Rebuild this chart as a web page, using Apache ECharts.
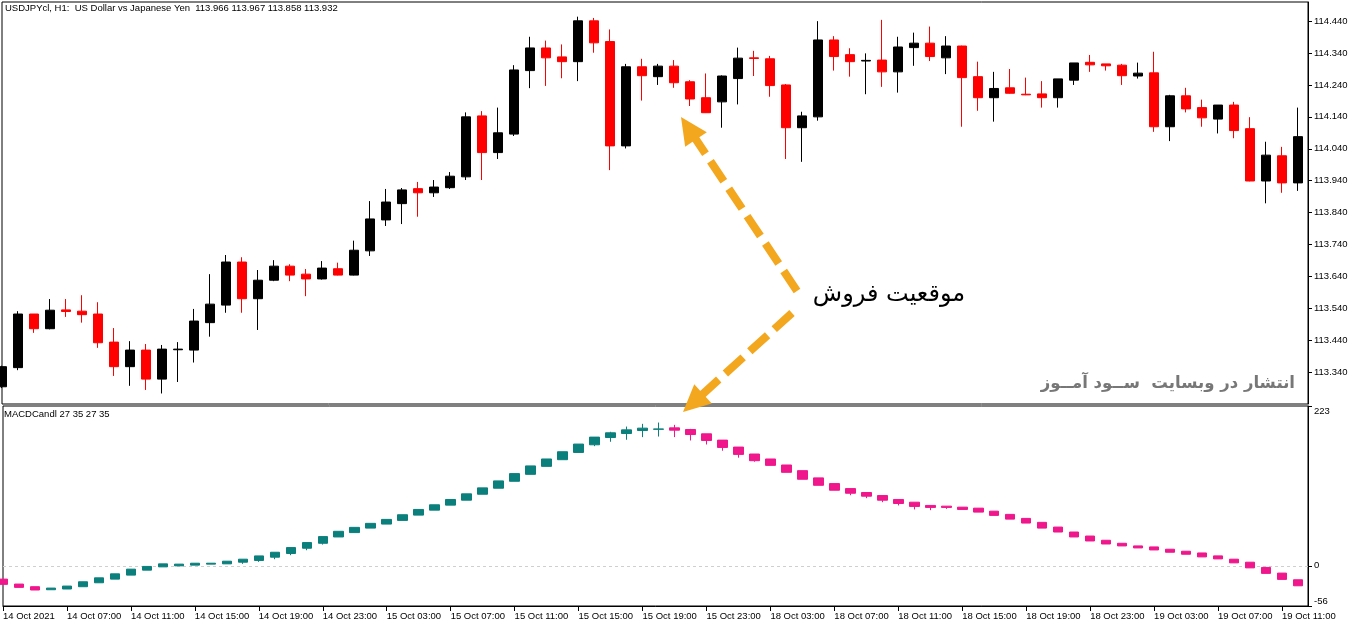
<!DOCTYPE html>
<html><head><meta charset="utf-8">
<script src="https://cdn.jsdelivr.net/npm/echarts@6/dist/echarts.min.js"></script>
<style>html,body{margin:0;padding:0;background:#fff;}#c{width:1362px;height:628px;}</style>
</head><body><div id="c"></div>
<script>
// ---- Price candles (USDJPY H1), index 0 = 14 Oct 03:00 ----
const priceOpen = [113.294,113.354,113.522,113.476,113.535,113.531,113.522,113.434,113.357,113.409,
113.318,113.410,113.409,113.495,113.550,113.685,113.570,113.628,113.672,113.647,
113.632,113.664,113.644,113.720,113.817,113.868,113.915,113.902,113.918,113.952,
114.143,114.028,114.086,114.285,114.356,114.328,114.313,114.441,114.376,114.049,
114.297,114.266,114.299,114.250,114.200,114.187,114.260,114.325,114.322,114.240,
114.106,114.140,114.381,114.335,114.315,114.318,114.281,114.357,114.371,114.325,
114.362,114.266,114.200,114.231,114.211,114.212,114.200,114.255,114.311,114.306,
114.302,114.268,114.278,114.109,114.206,114.169,114.133,114.177,114.103,113.939,
114.018,113.933];
const priceClose = [113.357,113.522,113.476,113.534,113.530,113.520,113.432,113.357,113.409,113.318,
113.412,113.412,113.500,113.553,113.685,113.570,113.628,113.672,113.644,113.632,
113.666,113.644,113.722,113.820,113.873,113.911,113.902,113.920,113.954,114.140,
114.028,114.090,114.287,114.356,114.325,114.313,114.441,114.372,114.049,114.297,
114.269,114.299,114.247,114.196,114.153,114.268,114.324,114.323,114.238,114.106,
114.143,114.381,114.329,114.313,114.317,114.281,114.359,114.371,114.329,114.362,
114.263,114.200,114.229,114.214,114.209,114.200,114.259,114.309,114.303,114.300,
114.269,114.277,114.109,114.206,114.165,114.137,114.177,114.097,113.939,114.020,
113.933,114.078];
const priceLow = [113.290,113.346,113.463,113.474,113.513,113.495,113.416,113.328,113.297,113.284,
113.273,113.309,113.370,113.451,113.526,113.526,113.472,113.625,113.625,113.578,
113.630,113.643,113.643,113.704,113.798,113.804,113.827,113.889,113.914,113.942,
113.942,114.008,114.080,114.230,114.237,114.261,114.252,114.341,113.973,114.041,
114.191,114.240,114.231,114.174,114.152,114.106,114.179,114.268,114.203,114.008,
113.999,114.128,114.285,114.266,114.211,114.234,114.216,114.300,114.315,114.274,
114.109,114.159,114.125,114.213,114.208,114.169,114.169,114.240,114.281,114.285,
114.240,114.260,114.093,114.064,114.154,114.109,114.088,114.073,113.938,113.869,
113.902,113.908];
const priceHigh = [113.360,113.531,113.522,113.569,113.569,113.581,113.559,113.478,113.437,113.428,
113.425,113.434,113.538,113.647,113.707,113.700,113.660,113.691,113.678,113.663,
113.688,113.683,113.752,113.876,113.914,113.917,113.936,113.942,113.967,114.154,
114.158,114.169,114.302,114.391,114.379,114.367,114.454,114.450,114.414,114.306,
114.322,114.306,114.318,114.255,114.276,114.270,114.357,114.347,114.331,114.243,
114.156,114.440,114.393,114.355,114.339,114.444,114.391,114.404,114.423,114.393,
114.363,114.313,114.281,114.290,114.263,114.252,114.259,114.309,114.334,114.306,
114.306,114.310,114.344,114.209,114.231,114.194,114.177,114.187,114.139,114.062,
114.046,114.169];

// ---- MACDCandl 27 35 27 35 ----
const macdOpen = [-18.5,-25.4,-29.1,-33.3,-32.3,-29.1,-23.6,-18.5,-12.9,-6.0,
-1.4,0.0,1.0,2.4,2.8,5.1,7.5,12.1,17.2,24.6,
31.5,40.3,46.4,52.7,58.3,63.4,70.8,77.7,84.7,91.6,
99.9,108.3,118.0,127.7,138.8,148.1,158.2,168.9,179.0,184.6,
188.8,190.5,192.5,190.2,184.2,175.4,165.7,156.0,149.1,140.7,
132.8,122.7,114.8,107.8,102.3,98.1,92.6,88.8,84.3,83.3,
81.9,80.5,76.3,71.8,66.2,60.7,54.1,47.2,41.6,35.7,
31.5,27.8,26.4,23.2,20.4,18.0,13.9,9.3,5.1,-2.2,
-10.1,-19.4];
const macdClose = [-25.8,-30.0,-33.7,-31.0,-28.2,-22.2,-16.7,-11.1,-4.6,-0.8,
2.8,2.4,3.7,3.7,6.5,9.3,13.9,19.0,25.5,32.5,
40.8,48.2,53.7,59.3,64.8,71.3,78.7,85.2,92.6,100.5,
108.8,118.5,128.7,139.4,149.1,159.2,169.9,179.6,185.6,189.7,
192.1,191.0,189.3,183.2,174.9,165.2,155.5,146.7,140.2,130.5,
120.8,112.4,105.5,101.3,97.2,91.6,87.0,82.9,81.5,81.5,
78.7,75.0,70.4,65.2,59.7,52.7,47.2,40.3,34.7,30.5,
27.8,25.0,22.2,19.0,16.2,12.5,9.7,4.2,-2.8,-10.5,
-18.9,-27.8];
const macdLow = [-25.8,-30.0,-33.7,-33.3,-32.3,-29.1,-23.6,-18.5,-12.9,-6.0,
-1.4,0.0,1.0,2.4,2.8,2.8,5.6,9.3,14.9,21.8,
29.7,40.3,46.4,52.7,58.3,63.4,70.8,77.7,84.7,91.6,
99.9,108.3,118.0,127.7,138.8,148.1,158.2,167.0,173.1,175.9,
179.6,180.4,179.6,174.9,169.3,160.6,150.9,145.3,140.2,130.5,
120.8,112.4,105.5,98.5,94.4,88.8,84.3,78.7,77.7,79.5,
78.7,75.0,70.4,65.2,59.7,52.7,47.2,40.3,34.7,30.5,
27.8,25.0,22.2,19.0,16.2,12.5,9.7,4.2,-2.8,-10.5,
-18.9,-27.8];
const macdHigh = [-18.5,-25.4,-29.1,-31.0,-28.2,-22.2,-16.7,-11.1,-4.6,-0.8,
2.8,2.4,3.7,3.7,6.5,9.3,13.9,19.0,25.5,32.5,
40.8,48.2,53.7,59.3,64.8,71.3,78.7,85.2,92.6,100.5,
108.8,118.5,128.7,139.4,149.1,159.2,169.9,179.6,187.0,194.3,
198.1,199.9,196.7,191.1,184.2,175.4,165.7,156.0,149.1,140.7,
132.8,122.7,114.8,107.8,102.3,98.1,92.6,88.8,84.3,83.3,
81.9,80.5,76.3,71.8,66.2,60.7,54.1,47.2,41.6,35.7,
31.5,27.8,26.4,23.2,20.4,18.0,13.9,9.3,5.1,-2.2,
-10.1,-19.4];

// ---- axis ticks / labels ----
const timeTickIndex = [0,4,8,12,16,20,24,28,32,36,40,44,48,52,56,60,64,68,72,76,80];
const timeLabels = ['14 Oct 2021','14 Oct 07:00','14 Oct 11:00','14 Oct 15:00','14 Oct 19:00','14 Oct 23:00',
'15 Oct 03:00','15 Oct 07:00','15 Oct 11:00','15 Oct 15:00','15 Oct 19:00','15 Oct 23:00',
'18 Oct 03:00','18 Oct 07:00','18 Oct 11:00','18 Oct 15:00','18 Oct 19:00','18 Oct 23:00',
'19 Oct 03:00','19 Oct 07:00','19 Oct 11:00'];
const priceTicks = [113.34,113.44,113.54,113.64,113.74,113.84,113.94,114.04,114.14,114.24,114.34,114.44];
const macdTicks = [-56,0,223];

const chartTitle = 'USDJPYcl, H1:  US Dollar vs Japanese Yen  113.966 113.967 113.858 113.932';
const indicatorTitle = 'MACDCandl 27 35 27 35';
const watermark = 'انتشار در وبسایت  ســود آمــوز';
const annotation = 'موقعیت فروش';

const FONT = '"Liberation Sans", Arial, sans-serif';
const ORANGE = '#F3A71F';

const candleData = priceOpen.map((o, i) => [i, o, priceClose[i], priceLow[i], priceHigh[i]]);
const macdData = macdOpen.map((o, i) => [i, o, macdClose[i], macdLow[i], macdHigh[i]]);

function arrow(tail, tip) {
  const dx = tip[0] - tail[0], dy = tip[1] - tail[1];
  const L = Math.hypot(dx, dy), ux = dx / L, uy = dy / L;
  const headLen = 27, headW = 13;
  const bx = tip[0] - ux * headLen, by = tip[1] - uy * headLen;
  return [
    {type: 'line', z: 100, shape: {x1: tail[0], y1: tail[1], x2: bx + ux * 3, y2: by + uy * 3},
     style: {stroke: ORANGE, lineWidth: 8, lineDash: [24, 9], lineCap: 'butt'}},
    {type: 'polygon', z: 100, shape: {points: [tip, [bx - uy * headW, by + ux * headW], [bx + uy * headW, by - ux * headW]]},
     style: {fill: ORANGE}}
  ];
}

const chart = echarts.init(document.getElementById('c'), null, {renderer: 'canvas'});
const axisText = {fontFamily: FONT, fontSize: 9.5, color: '#000'};
chart.setOption({
  animation: false,
  backgroundColor: '#fff',
  title: [
    {text: chartTitle, left: 5, top: 3, padding: 0, textStyle: {fontFamily: FONT, fontSize: 9.5, fontWeight: 'normal', color: '#000'}},
    {text: indicatorTitle, left: 4, top: 409, padding: 0, textStyle: {fontFamily: FONT, fontSize: 9.5, fontWeight: 'normal', color: '#000'}}
  ],
  grid: [
    {left: 2, top: 2, width: 1306, height: 402, show: true, borderColor: '#000', borderWidth: 1},
    {left: 2, top: 406, width: 1306, height: 200, show: true, borderColor: '#000', borderWidth: 1}
  ],
  xAxis: [
    {type: 'value', gridIndex: 0, min: 0, max: 81.625, show: false},
    {type: 'value', gridIndex: 1, min: 0, max: 81.625, position: 'bottom',
     axisLine: {show: true, onZero: false, lineStyle: {color: '#000', width: 1}},
     axisTick: {show: true, customValues: timeTickIndex, length: 5, lineStyle: {color: '#000'}},
     axisLabel: Object.assign({customValues: timeTickIndex, align: 'left', margin: 5,
       formatter: v => timeLabels[timeTickIndex.indexOf(Math.round(v))] || ''}, axisText),
     splitLine: {show: false}}
  ],
  yAxis: [
    {type: 'value', gridIndex: 0, position: 'right', min: 113.24, max: 114.50, scale: true,
     axisLine: {show: true, onZero: false, lineStyle: {color: '#000'}},
     axisTick: {show: true, customValues: priceTicks, length: 4, lineStyle: {color: '#000'}},
     axisLabel: Object.assign({customValues: priceTicks, margin: 6, formatter: v => v.toFixed(3)}, axisText),
     splitLine: {show: false}},
    {type: 'value', gridIndex: 1, position: 'right', min: -56, max: 223,
     axisLine: {show: true, onZero: false, lineStyle: {color: '#000'}},
     axisTick: {show: true, customValues: macdTicks, length: 4, lineStyle: {color: '#000'}},
     axisLabel: Object.assign({customValues: macdTicks, margin: 6,
       formatter: v => v === 223 ? '{t|223}' : (v === -56 ? '{b|-56}' : '{m|' + v + '}'),
       rich: {t: Object.assign({padding: [10, 0, 0, 0]}, axisText), b: Object.assign({padding: [0, 0, 10, 0]}, axisText), m: Object.assign({}, axisText)}}, axisText),
     splitLine: {show: false}}
  ],
  series: [
    {type: 'candlestick', xAxisIndex: 0, yAxisIndex: 0, data: candleData, encode: {x: 0, y: [1, 2, 3, 4]},
     barWidth: 10, clip: true,
     itemStyle: {color: '#000000', color0: '#ff0000', borderColor: '#000000', borderColor0: '#ff0000', borderWidth: 1}},
    {type: 'candlestick', xAxisIndex: 1, yAxisIndex: 1, data: macdData, encode: {x: 0, y: [1, 2, 3, 4]},
     barWidth: 10, clip: true,
     itemStyle: {color: '#0b7f7c', color0: '#f0168c', borderColor: '#0b7f7c', borderColor0: '#f0168c', borderWidth: 1},
     markLine: {silent: true, symbol: 'none', label: {show: false}, animation: false, z: 1,
       lineStyle: {color: '#cfcfcf', type: [3, 3], width: 1}, data: [{yAxis: 0}]}}
  ],
  graphic: [
    {type: 'text', z: 50, style: {text: watermark, x: 1295, y: 384, align: 'right', verticalAlign: 'middle',
      font: 'bold 16.5px "DejaVu Sans"', fill: '#777777'}},
    {type: 'text', z: 50, style: {text: annotation, x: 889, y: 295, align: 'center', verticalAlign: 'middle',
      font: '24px "DejaVu Sans"', fill: '#000'}}
  ].concat(arrow([797, 291], [681, 117])).concat(arrow([792, 313], [683, 412]))
});
</script></body></html>
